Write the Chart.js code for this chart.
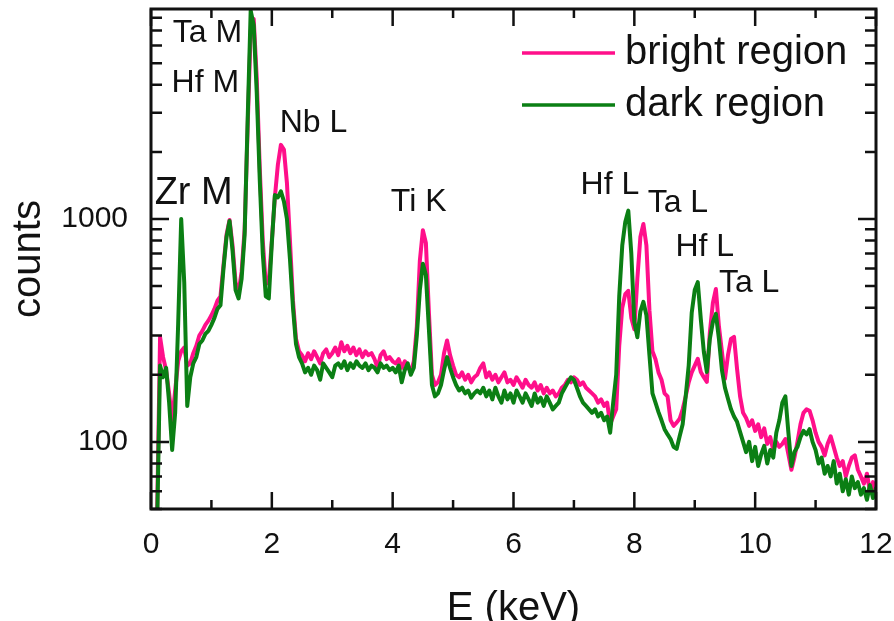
<!DOCTYPE html>
<html>
<head>
<meta charset="utf-8">
<title>EDX spectrum</title>
<script src="https://cdn.jsdelivr.net/npm/chart.js@4.4.0/dist/chart.umd.min.js"></script>
<style>
  html, body { margin: 0; padding: 0; background: #fff; }
  #wrap { width: 894px; height: 621px; position: relative; }
</style>
</head>
<body>
<div id="wrap"><canvas id="spec"></canvas></div>
<script>
// energy axis, keV
const energy = [
  0.10, 0.15, 0.20, 0.25, 0.30, 0.35, 0.40, 0.45, 0.50, 0.55, 0.60, 0.65, 0.70, 0.75, 0.80, 0.85, 0.90, 0.95,
  1.00, 1.05, 1.10, 1.15, 1.20, 1.25, 1.30, 1.35, 1.40, 1.45, 1.50, 1.55, 1.60, 1.65, 1.70, 1.75, 1.80, 1.85, 1.90, 1.95,
  2.00, 2.05, 2.10, 2.15, 2.20, 2.25, 2.30, 2.35, 2.40, 2.45, 2.50, 2.55, 2.60, 2.65, 2.70, 2.75, 2.80, 2.85, 2.90, 2.95,
  3.00, 3.05, 3.10, 3.15, 3.20, 3.25, 3.30, 3.35, 3.40, 3.45, 3.50, 3.55, 3.60, 3.65, 3.70, 3.75, 3.80, 3.85, 3.90, 3.95,
  4.00, 4.05, 4.10, 4.15, 4.20, 4.25, 4.30, 4.35, 4.40, 4.45, 4.50, 4.55, 4.60, 4.65, 4.70, 4.75, 4.80, 4.85, 4.90, 4.95,
  5.00, 5.05, 5.10, 5.15, 5.20, 5.25, 5.30, 5.35, 5.40, 5.45, 5.50, 5.55, 5.60, 5.65, 5.70, 5.75, 5.80, 5.85, 5.90, 5.95,
  6.00, 6.05, 6.10, 6.15, 6.20, 6.25, 6.30, 6.35, 6.40, 6.45, 6.50, 6.55, 6.60, 6.65, 6.70, 6.75, 6.80, 6.85, 6.90, 6.95,
  7.00, 7.05, 7.10, 7.15, 7.20, 7.25, 7.30, 7.35, 7.40, 7.45, 7.50, 7.55, 7.60, 7.65, 7.70, 7.75, 7.80, 7.85, 7.90, 7.95,
  8.00, 8.05, 8.10, 8.15, 8.20, 8.25, 8.30, 8.35, 8.40, 8.45, 8.50, 8.55, 8.60, 8.65, 8.70, 8.75, 8.80, 8.85, 8.90, 8.95,
  9.00, 9.05, 9.10, 9.15, 9.20, 9.25, 9.30, 9.35, 9.40, 9.45, 9.50, 9.55, 9.60, 9.65, 9.70, 9.75, 9.80, 9.85, 9.90, 9.95,
  10.00, 10.05, 10.10, 10.15, 10.20, 10.25, 10.30, 10.35, 10.40, 10.45, 10.50, 10.55, 10.60, 10.65, 10.70, 10.75, 10.80, 10.85, 10.90, 10.95,
  11.00, 11.05, 11.10, 11.15, 11.20, 11.25, 11.30, 11.35, 11.40, 11.45, 11.50, 11.55, 11.60, 11.65, 11.70, 11.75, 11.80, 11.85, 11.90, 11.95,
  12.00
];

// counts, bright region (pink)
const bright = [
  45, 295, 240, 210, 165, 125, 170, 230, 255, 265, 220, 225, 250, 270, 300, 315, 335, 350,
  370, 395, 430, 450, 620, 850, 990, 760, 520, 470, 580, 900, 2600, 7000, 7900, 4300, 1700, 800, 510, 520,
  800, 1250, 1750, 2150, 2050, 1450, 800, 430, 290, 255, 245, 230, 250, 235, 255, 240, 225, 250, 260, 240,
  250, 265, 245, 280, 255, 270, 250, 265, 245, 260, 240, 255, 245, 250, 235, 215, 245, 255, 235, 240,
  230, 225, 235, 215, 230, 220, 205, 230, 330, 650, 890, 780, 380, 200, 180, 185, 200, 250, 285, 245,
  220, 200, 195, 205, 190, 200, 185, 195, 200, 215, 225, 195, 205, 190, 200, 185, 195, 205, 185, 190,
  180, 195, 185, 175, 190, 180, 175, 185, 170, 180, 165, 175, 165, 170, 160, 165, 175, 180, 190, 185,
  195, 190, 180, 185, 175, 170, 165, 160, 150, 155, 145, 150, 120, 130, 140, 270, 400, 460, 476, 360,
  320, 540, 830, 950, 760, 390, 255, 235, 205, 190, 165, 160, 125, 118, 122, 127, 140, 160, 185, 205,
  220, 236, 206, 195, 186, 310, 420, 485, 330, 254, 192, 245, 290, 296, 213, 160, 135, 128, 118, 125,
  112, 120, 105, 115, 98, 105, 92, 100, 95, 98, 103, 88, 75, 85, 100, 120, 135, 140, 138, 125,
  110, 100, 95, 87, 98, 106, 95, 85, 78, 82, 70, 78, 85, 87, 75, 70, 65, 72, 60, 66,
  58
];

// counts, dark region (green)
const dark = [
  40, 220, 195, 215, 150, 92, 135, 340, 1000, 520, 145, 195, 225, 240, 275, 285, 305, 315,
  335, 360, 395, 410, 600, 830, 980, 720, 480, 440, 540, 850, 2800, 8600, 7400, 3700, 1500, 700, 450, 440,
  780, 1280, 1250, 1330, 1200, 1000, 660, 400, 275, 240, 225, 205, 215, 200, 220, 210, 190, 225, 215, 205,
  195, 220, 225, 215, 230, 210, 225, 215, 230, 220, 215, 225, 210, 220, 215, 205, 225, 215, 220, 210,
  215, 205, 220, 185, 210, 225, 200, 215, 300, 480, 630, 560, 320, 180, 160, 165, 180, 210, 240, 215,
  195, 180, 170, 175, 165, 170, 158, 165, 170, 165, 175, 160, 170, 155, 175, 160, 150, 170, 155, 165,
  150, 170, 160, 150, 165, 155, 145, 165, 150, 158, 145, 160, 150, 140, 145, 150, 165, 175, 185, 195,
  190, 175, 160, 150, 145, 140, 135, 140, 130, 135, 125, 130, 110, 150, 200, 450, 760, 970, 1090, 700,
  345, 295, 385, 425, 370, 245, 165, 150, 136, 125, 114, 108, 103, 95, 93, 106, 120, 160, 220, 380,
  480, 521, 356, 254, 206, 290, 345, 375, 290, 210, 175, 156, 140, 130, 123, 111, 100, 90, 100, 82,
  95, 78, 88, 96, 80, 92, 85, 110, 125, 150, 160, 110, 78, 90, 95, 105, 112, 108, 114, 100,
  92, 80, 85, 72, 78, 70, 82, 65, 72, 60, 68, 58, 70, 62, 66, 58, 62, 55, 64, 56,
  62
];

const xLabels = [0, 2, 4, 6, 8, 10, 12];
const yLabels = [100, 1000];

// peak annotations, anchored (left, baseline) in data space
const peakNames = ['Ta M', 'Hf M', 'Nb L', 'Zr M', 'Ti K', 'Hf L', 'Ta L', 'Hf L', 'Ta L'];
const peakE = [0.36, 0.34, 2.13, 0.06, 3.97, 7.11, 8.22, 8.68, 9.40];
const peakC = [6220, 3710, 2450, 1170, 1090, 1290, 1075, 680, 470];

const FONT = "'Liberation Sans', Arial, sans-serif";
const PINK = '#ff0f8a';
const GREEN = '#0b7f14';
const INK = '#111';

function toPoints(vals) {
  return energy.map((e, i) => ({ x: e, y: vals[i] }));
}

// keep the plot box fixed: no extra room for overhanging labels
function fixBox(s) {
  s.paddingLeft = 0; s.paddingRight = 0; s.paddingTop = 0; s.paddingBottom = 0;
}

// frame with inward ticks on all four sides, peak names and legend
const decorations = {
  id: 'decorations',
  afterDatasetsDraw(chart) {
    const { ctx, chartArea: a, scales: { x, y } } = chart;
    ctx.save();
    ctx.strokeStyle = INK;
    ctx.lineWidth = 2.5;
    ctx.beginPath();
    for (let v = 0; v <= 12; v++) {
      const px = x.getPixelForValue(v);
      const len = v % 2 === 0 ? 17 : 9;
      ctx.moveTo(px, a.bottom); ctx.lineTo(px, a.bottom - len);
      ctx.moveTo(px, a.top); ctx.lineTo(px, a.top + len);
    }
    for (let dec = 10; dec <= 1000; dec *= 10) {
      for (let m = 1; m <= 9; m++) {
        const v = m * dec;
        if (v < y.min || v > y.max) continue;
        const py = y.getPixelForValue(v);
        const len = m === 1 ? 18 : 11;
        ctx.moveTo(a.left, py); ctx.lineTo(a.left + len, py);
        ctx.moveTo(a.right, py); ctx.lineTo(a.right - len, py);
      }
    }
    ctx.stroke();
    ctx.lineWidth = 3;
    ctx.strokeRect(a.left, a.top, a.right - a.left, a.bottom - a.top);

    // peak names
    ctx.fillStyle = INK;
    ctx.textAlign = 'left';
    ctx.textBaseline = 'alphabetic';
    peakNames.forEach((name, i) => {
      const size = name === 'Zr M' ? 38 : 32;
      ctx.font = size + 'px ' + FONT;
      ctx.fillText(name, x.getPixelForValue(peakE[i]), y.getPixelForValue(peakC[i]));
    });

    // legend
    ctx.font = '40px ' + FONT;
    ctx.textBaseline = 'middle';
    chart.data.datasets.forEach((ds, i) => {
      const ly = 53 + i * 52;
      ctx.strokeStyle = ds.borderColor;
      ctx.lineWidth = 3.5;
      ctx.beginPath();
      ctx.moveTo(522, ly); ctx.lineTo(615, ly);
      ctx.stroke();
      ctx.fillText(ds.label, 625, ly);
    });
    ctx.restore();
  }
};

new Chart(document.getElementById('spec'), {
  type: 'line',
  data: {
    datasets: [
      { label: 'bright region', data: toPoints(bright), borderColor: PINK, order: 2 },
      { label: 'dark region', data: toPoints(dark), borderColor: GREEN, order: 1 }
    ]
  },
  options: {
    responsive: true,
    maintainAspectRatio: false,
    animation: false,
    devicePixelRatio: 1,
    layout: { padding: { top: 9, right: 18, left: 0, bottom: 0 } },
    elements: {
      line: { borderWidth: 4, tension: 0, borderJoinStyle: 'round', borderCapStyle: 'round', fill: false },
      point: { radius: 0 }
    },
    plugins: { legend: { display: false }, tooltip: { enabled: false } },
    scales: {
      x: {
        type: 'linear', min: 0, max: 12,
        afterFit: s => { s.height = 112; fixBox(s); },
        grid: { display: false, drawTicks: false },
        border: { display: false },
        ticks: {
          stepSize: 2, padding: 18, autoSkip: false, maxRotation: 0, color: INK,
          font: { size: 30, family: FONT },
          callback: v => xLabels.includes(v) ? String(v) : ''
        },
        title: {
          display: true, text: 'E (keV)', color: INK,
          font: { size: 40, family: FONT, lineHeight: 0.6 },
          padding: { top: 0, bottom: 0 }
        }
      },
      y: {
        type: 'logarithmic', min: 50, max: 8750,
        afterFit: s => { s.width = 151; fixBox(s); },
        grid: { display: false, drawTicks: false },
        border: { display: false },
        ticks: {
          padding: 23, autoSkip: false, color: INK,
          font: { size: 30, family: FONT },
          callback: v => yLabels.includes(v) ? String(v) : null
        },
        title: {
          display: true, text: 'counts', color: INK,
          font: { size: 40, family: FONT, lineHeight: 1.2 },
          padding: { top: 5, bottom: 0 }
        }
      }
    }
  },
  plugins: [decorations]
});
</script>
</body>
</html>
